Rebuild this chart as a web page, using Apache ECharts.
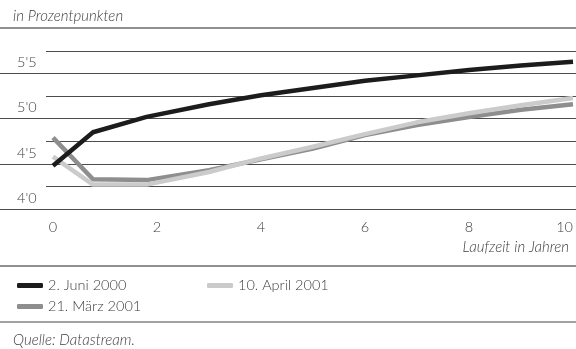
<!DOCTYPE html>
<html>
<head>
<meta charset="utf-8">
<script src="https://cdn.jsdelivr.net/npm/echarts@6/dist/echarts.min.js"></script>
<style>
  html, body { margin: 0; padding: 0; background: #ffffff; }
  #chart { width: 576px; height: 349px; }
</style>
</head>
<body>
<div id="chart"></div>
<script>
// Laufzeit in Jahren (Position auf der Achse)
const maturities = [0, 0.77, 1.8, 3, 4, 5, 6, 7, 8, 9, 10];
// Renditen in Prozent
const juni2000  = [4.48, 4.85, 5.02, 5.16, 5.26, 5.34, 5.42, 5.48, 5.54, 5.59, 5.63];
const maerz2001 = [4.79, 4.33, 4.32, 4.43, 4.55, 4.67, 4.82, 4.93, 5.02, 5.10, 5.16];
const april2001 = [4.58, 4.27, 4.27, 4.41, 4.56, 4.69, 4.83, 4.96, 5.06, 5.15, 5.23];
const seriesNames = ['2. Juni 2000', '21. März 2001', '10. April 2001'];
// Beschriftung der Renditeachse
const yTickValues = [4.0, 4.5, 5.0, 5.5];
const yTickLabels = ["4'0", "4'5", "5'0", "5'5"];
const xTickLabels = ['0', '2', '4', '6', '8', '10'];

const FONT = 'Lato, "Open Sans", sans-serif';
const TEXT = '#404040';
const RULE = '#4d4d4d';

function pairs(ys) { return maturities.map((x, i) => [x, ys[i]]); }
function yLabel(v) {
  const i = yTickValues.findIndex(t => Math.abs(t - v) < 1e-6);
  return i >= 0 ? yTickLabels[i] : '';
}

const chart = echarts.init(document.getElementById('chart'), null, { renderer: 'canvas' });
const Y_MIN = 4.0, Y_MAX = 5.75, Y_STEP = 0.25;
const italic = size => ({ fontFamily: FONT, fontSize: size, fontStyle: 'italic', fontWeight: 300, color: TEXT });

chart.setOption({
  animation: false,
  backgroundColor: '#ffffff',
  textStyle: { fontFamily: FONT },
  title: [
    { text: 'in Prozentpunkten', left: 8, top: 4, textStyle: italic(15) },
    { text: 'Laufzeit in Jahren', right: 2, top: 235, textStyle: italic(15) },
    { text: 'Quelle: Datastream.', left: 8, top: 328, textStyle: italic(15) }
  ],
  graphic: [
    { type: 'line', shape: { x1: 0, y1: 28, x2: 576, y2: 28 }, style: { stroke: '#222', lineWidth: 1.2 } },
    { type: 'line', shape: { x1: 0, y1: 266, x2: 576, y2: 266 }, style: { stroke: '#222', lineWidth: 1.2 } },
    { type: 'line', shape: { x1: 0, y1: 322, x2: 576, y2: 322 }, style: { stroke: '#444', lineWidth: 1.2 } }
  ],
  legend: [
    { data: [seriesNames[0], seriesNames[1]], orient: 'vertical', left: 12, top: 273,
      icon: 'roundRect', itemWidth: 26, itemHeight: 5, itemGap: 6,
      textStyle: { fontFamily: FONT, fontSize: 14.5, fontWeight: 300, color: TEXT } },
    { data: [seriesNames[2]], orient: 'vertical', left: 202, top: 273,
      icon: 'roundRect', itemWidth: 26, itemHeight: 5,
      textStyle: { fontFamily: FONT, fontSize: 14.5, fontWeight: 300, color: TEXT } }
  ],
  grid: [
    { left: 0, right: 0, top: 51, bottom: 140 },   // durchgehende Linien mit Beschriftung
    { left: 46, right: 0, top: 51, bottom: 140 },  // Zwischenlinien
    { left: 53, right: 0, top: 51, bottom: 140 }   // Zinskurven
  ],
  xAxis: [
    { gridIndex: 0, type: 'value', min: 0, max: 10, show: false },
    { gridIndex: 1, type: 'value', min: 0, max: 10, show: false },
    { gridIndex: 2, type: 'value', min: 0, max: 10, interval: 2,
      axisLine: { show: false }, axisTick: { show: false }, splitLine: { show: false },
      axisLabel: { margin: 11, fontFamily: FONT, fontSize: 14.5, fontWeight: 300, color: TEXT,
        alignMaxLabel: 'right',
        formatter: v => xTickLabels[Math.round(v / 2)] } }
  ],
  yAxis: [
    { gridIndex: 0, type: 'value', min: Y_MIN, max: Y_MAX, interval: Y_STEP,
      axisLine: { show: false }, axisTick: { show: false },
      splitLine: { show: true, lineStyle: { color: [RULE, 'rgba(0,0,0,0)'], width: 1.2 } },
      axisLabel: { inside: true, margin: 17, align: 'left', verticalAlign: 'bottom',
        padding: [0, 0, 4, 0], lineHeight: 14,
        fontFamily: FONT, fontSize: 14.5, fontWeight: 300, color: TEXT, formatter: yLabel } },
    { gridIndex: 1, type: 'value', min: Y_MIN, max: Y_MAX, interval: Y_STEP,
      axisLine: { show: false }, axisTick: { show: false }, axisLabel: { show: false },
      splitLine: { show: true, lineStyle: { color: ['rgba(0,0,0,0)', RULE], width: 1.2 } } },
    { gridIndex: 2, type: 'value', min: Y_MIN, max: Y_MAX, show: false }
  ],
  series: [
    { name: seriesNames[1], type: 'line', xAxisIndex: 2, yAxisIndex: 2, data: pairs(maerz2001),
      symbol: 'none', z: 3, color: '#8e8e8e', lineStyle: { width: 4.5, color: '#8e8e8e', join: 'round' } },
    { name: seriesNames[2], type: 'line', xAxisIndex: 2, yAxisIndex: 2, data: pairs(april2001),
      symbol: 'none', z: 4, color: '#cbcbcb', lineStyle: { width: 4.5, color: '#cbcbcb', join: 'round' } },
    { name: seriesNames[0], type: 'line', xAxisIndex: 2, yAxisIndex: 2, data: pairs(juni2000),
      symbol: 'none', z: 5, color: '#1c1c1c', lineStyle: { width: 4.5, color: '#1c1c1c', join: 'round' } }
  ]
});
</script>
</body>
</html>
